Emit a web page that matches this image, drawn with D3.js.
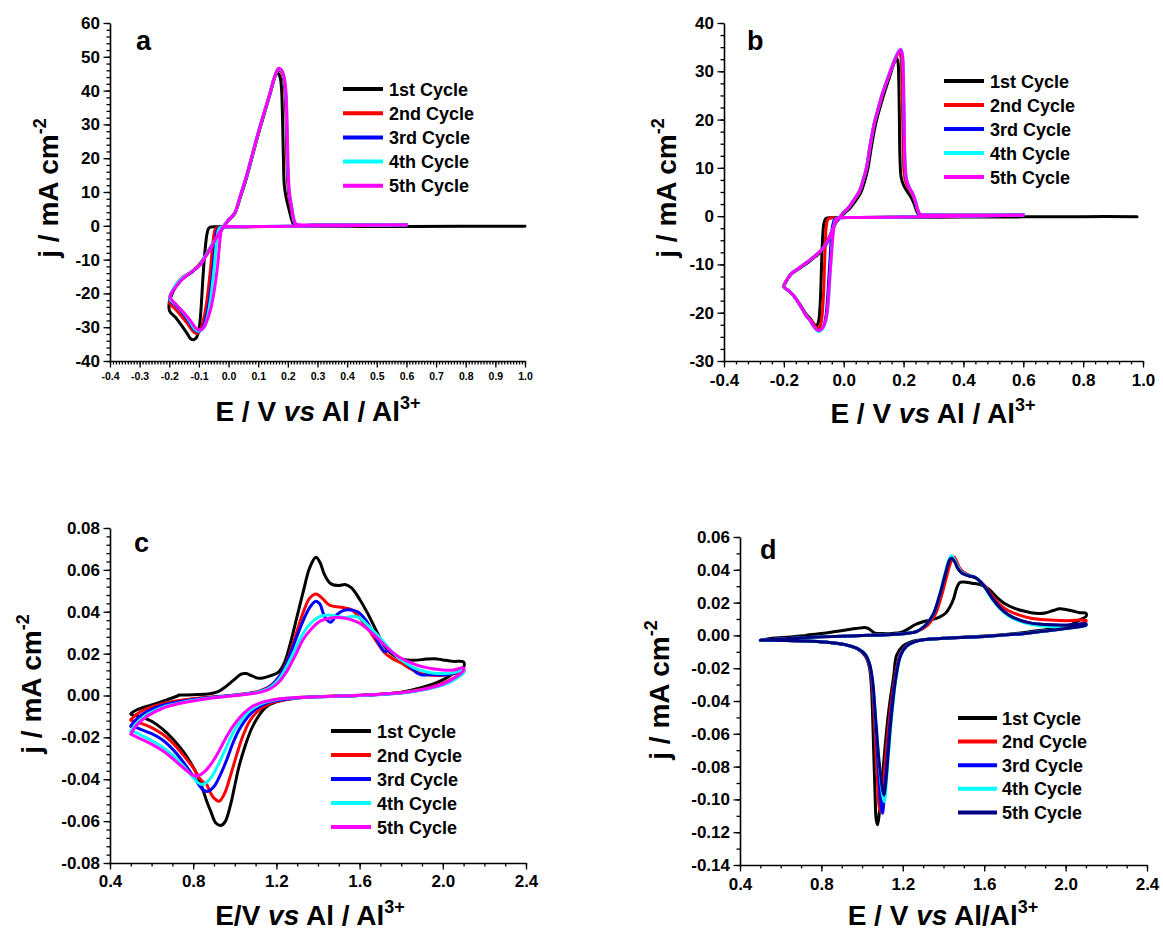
<!DOCTYPE html>
<html><head><meta charset="utf-8">
<script src="https://cdn.jsdelivr.net/npm/d3@7"></script>
<style>
html,body{margin:0;padding:0;background:#fff;}
svg{display:block;font-family:"Liberation Sans",Arial,Helvetica,sans-serif;font-weight:bold;}
text{white-space:pre;}
</style></head><body>
<svg id="chart" width="1163" height="930"></svg>
<script>
// ---------- DATA: [E (V), j (mA cm^-2)] in sweep order ----------
const cycleLabels = ["1st Cycle","2nd Cycle","3rd Cycle","4th Cycle","5th Cycle"];
const colorsABC = ["#000000","#ff0000","#0000ff","#00ffff","#ff00ff"];
const colorsD   = ["#000000","#ff0000","#0000ff","#00ffff","#000080"];

const aTicksX = [-0.4,-0.3,-0.2,-0.1,0.0,0.1,0.2,0.3,0.4,0.5,0.6,0.7,0.8,0.9,1.0];
const aTicksY = [-40,-30,-20,-10,0,10,20,30,40,50,60];
const bTicksX = [-0.4,-0.2,0.0,0.2,0.4,0.6,0.8,1.0];
const bTicksY = [-30,-20,-10,0,10,20,30,40];
const cTicksX = [0.4,0.8,1.2,1.6,2.0,2.4];
const cTicksY = [-0.08,-0.06,-0.04,-0.02,0.00,0.02,0.04,0.06,0.08];
const dTicksX = [0.4,0.8,1.2,1.6,2.0,2.4];
const dTicksY = [-0.14,-0.12,-0.10,-0.08,-0.06,-0.04,-0.02,0.00,0.02,0.04,0.06];

const aCycle1 = [[1.0,-0.1],[0.8,-0.15],[0.6,-0.2],[0.4,-0.2],[0.2,-0.2],[0.0,-0.25],[-0.04,-0.3],[-0.062,-0.4],[-0.068,-0.9],[-0.073,-2.5],[-0.078,-6],[-0.083,-11],[-0.087,-16],[-0.091,-22],[-0.095,-27],[-0.1,-30.8],[-0.108,-33],[-0.118,-33.7],[-0.127,-33.5],[-0.14,-31.8],[-0.16,-29.3],[-0.18,-27],[-0.199,-25.2],[-0.2,-22.6],[-0.19,-20],[-0.18,-18.3],[-0.165,-16.6],[-0.15,-15.3],[-0.13,-14.1],[-0.11,-12.7],[-0.09,-10.6],[-0.07,-8],[-0.05,-5],[-0.03,-2.2],[-0.015,0],[0.0,1.6],[0.02,3.6],[0.04,8.5],[0.06,14],[0.08,20.5],[0.1,27],[0.12,33],[0.14,39],[0.152,42.8],[0.16,44.8],[0.168,45],[0.175,43.5],[0.179,40],[0.182,32],[0.185,20],[0.188,12],[0.195,8],[0.205,4.5],[0.214,1.5],[0.222,0.3],[0.3,0.15],[0.6,0.2]];
const aCycle2 = [[0.6,0.2],[0.4,0.0],[0.2,-0.2],[0.0,-0.3],[-0.035,-0.4],[-0.045,-1],[-0.05,-3],[-0.055,-7],[-0.06,-12],[-0.066,-17],[-0.073,-22],[-0.082,-26.8],[-0.092,-30],[-0.102,-31.6],[-0.11,-31.8],[-0.122,-31],[-0.14,-28.8],[-0.16,-26.6],[-0.18,-24.6],[-0.198,-23],[-0.199,-21.6],[-0.19,-19.6],[-0.175,-17.2],[-0.16,-15.6],[-0.14,-14.4],[-0.12,-13.2],[-0.1,-11.6],[-0.08,-9],[-0.06,-6.2],[-0.04,-3.3],[-0.02,-0.5],[0.0,1.7],[0.02,3.6],[0.04,8.8],[0.06,14.4],[0.08,21],[0.1,27.4],[0.12,33.4],[0.14,39.2],[0.155,43.8],[0.168,46],[0.178,45.5],[0.186,43],[0.191,38],[0.195,26],[0.198,15],[0.203,9],[0.211,5],[0.219,1.5],[0.228,0.3],[0.3,0.25],[0.6,0.3]];
const aCycle3 = [[0.6,0.25],[0.4,0.05],[0.2,-0.15],[0.0,-0.28],[-0.028,-0.4],[-0.037,-1],[-0.042,-3],[-0.047,-7],[-0.052,-12],[-0.058,-17],[-0.065,-22],[-0.074,-26.5],[-0.085,-29.7],[-0.096,-31.1],[-0.105,-31.3],[-0.117,-30.6],[-0.135,-28.2],[-0.155,-25.8],[-0.175,-23.8],[-0.197,-22.1],[-0.198,-21.1],[-0.185,-18.6],[-0.17,-16.7],[-0.15,-15.2],[-0.13,-14],[-0.11,-12.7],[-0.095,-11.4],[-0.08,-9.2],[-0.06,-6.4],[-0.04,-3.4],[-0.02,-0.6],[0.0,1.8],[0.02,3.6],[0.04,8.9],[0.06,14.5],[0.08,21],[0.1,27.5],[0.12,33.5],[0.14,39.3],[0.155,44],[0.168,46.3],[0.178,46],[0.187,43.5],[0.193,38],[0.197,26],[0.2,15],[0.205,9],[0.213,5],[0.221,1.2],[0.23,0.3],[0.3,0.25],[0.6,0.3]];
const aCycle4 = [[0.6,0.25],[0.4,0.05],[0.2,-0.15],[0.0,-0.28],[-0.024,-0.4],[-0.033,-1],[-0.038,-3],[-0.043,-7],[-0.048,-12],[-0.054,-17],[-0.061,-22],[-0.07,-26.5],[-0.081,-29.7],[-0.093,-31],[-0.102,-31.2],[-0.114,-30.5],[-0.132,-28.1],[-0.152,-25.7],[-0.173,-23.6],[-0.197,-21.8],[-0.198,-20.9],[-0.185,-18.5],[-0.17,-16.6],[-0.15,-15.1],[-0.13,-13.9],[-0.11,-12.6],[-0.095,-11.4],[-0.08,-9.2],[-0.06,-6.4],[-0.04,-3.4],[-0.02,-0.6],[0.0,1.8],[0.02,3.6],[0.04,9],[0.06,14.5],[0.08,21],[0.1,27.5],[0.12,33.5],[0.14,39.3],[0.155,44],[0.168,46.4],[0.178,46],[0.188,43.5],[0.194,38],[0.198,26],[0.201,15],[0.206,9],[0.214,5],[0.222,1.2],[0.232,0.3],[0.3,0.25],[0.6,0.3]];
const aCycle5 = [[0.6,0.25],[0.4,0.05],[0.2,-0.15],[0.05,-0.25],[-0.01,-0.3],[-0.02,-0.5],[-0.026,-2],[-0.031,-6],[-0.036,-11],[-0.043,-16],[-0.051,-20.6],[-0.06,-24.5],[-0.07,-27.4],[-0.08,-29.6],[-0.09,-30.7],[-0.099,-30.9],[-0.11,-30.3],[-0.13,-27.9],[-0.15,-25.8],[-0.165,-24.4],[-0.18,-23],[-0.196,-21.5],[-0.197,-20.7],[-0.18,-18.3],[-0.164,-16.5],[-0.145,-15],[-0.13,-14],[-0.11,-12.6],[-0.096,-11.6],[-0.085,-10.2],[-0.074,-8.6],[-0.062,-6.9],[-0.051,-5.2],[-0.04,-3.4],[-0.029,-1.7],[-0.012,0.2],[0.0,1.8],[0.02,3.6],[0.04,9],[0.06,14.6],[0.08,21],[0.1,27.5],[0.12,33.5],[0.14,39.3],[0.155,44],[0.168,46.6],[0.178,46.2],[0.188,43.8],[0.194,39],[0.198,28],[0.201,17],[0.205,10],[0.212,6],[0.219,2.5],[0.226,0.6],[0.24,0.3],[0.3,0.25],[0.6,0.3]];

const bCycle1 = [[0.98,-0.1],[0.8,-0.1],[0.6,-0.15],[0.4,-0.2],[0.2,-0.25],[0.0,-0.3],[-0.05,-0.35],[-0.06,-0.5],[-0.066,-1.5],[-0.07,-4],[-0.073,-8],[-0.075,-12],[-0.077,-16],[-0.08,-19.5],[-0.084,-21.8],[-0.092,-22.8],[-0.1,-22.3],[-0.112,-21.2],[-0.124,-20.4],[-0.135,-19.4],[-0.146,-18.3],[-0.158,-17.2],[-0.17,-16.3],[-0.185,-15.4],[-0.2,-14.7],[-0.19,-13.3],[-0.175,-12],[-0.157,-11.2],[-0.135,-10.3],[-0.113,-9.3],[-0.095,-8.4],[-0.08,-7.6],[-0.065,-6.5],[-0.052,-5.1],[-0.04,-3.4],[-0.029,-1.7],[-0.015,-0.5],[-0.005,0.2],[0.005,0.8],[0.02,1.6],[0.035,2.8],[0.055,4.6],[0.068,6.8],[0.08,9.6],[0.089,13],[0.096,15.6],[0.107,19.2],[0.118,21.8],[0.134,25.2],[0.152,28.6],[0.166,31.3],[0.176,32.7],[0.181,32],[0.184,28],[0.186,20],[0.188,12],[0.192,8],[0.2,6.4],[0.21,5.3],[0.222,4.2],[0.235,2.6],[0.244,1],[0.252,0.3],[0.3,0.2],[0.6,0.25]];
const bCycle2 = [[0.6,0.2],[0.4,0.0],[0.2,-0.2],[0.05,-0.3],[-0.04,-0.35],[-0.052,-0.6],[-0.058,-2],[-0.061,-5],[-0.064,-10],[-0.066,-14],[-0.069,-18],[-0.073,-21],[-0.079,-22.8],[-0.087,-23.3],[-0.096,-22.8],[-0.108,-21.7],[-0.122,-20.7],[-0.134,-19.6],[-0.146,-18.4],[-0.158,-17.3],[-0.17,-16.3],[-0.185,-15.4],[-0.2,-14.6],[-0.19,-13.2],[-0.175,-11.9],[-0.157,-11.1],[-0.135,-10.1],[-0.113,-9.1],[-0.095,-8.2],[-0.08,-7.4],[-0.065,-6.3],[-0.052,-4.9],[-0.04,-3.2],[-0.029,-1.5],[-0.015,-0.4],[-0.007,0.25],[0.0,0.8],[0.014,1.6],[0.03,2.9],[0.052,4.9],[0.065,7.3],[0.077,10.1],[0.086,13.4],[0.093,16],[0.104,19.5],[0.115,22],[0.131,25.4],[0.15,28.9],[0.168,32],[0.181,33.7],[0.187,34],[0.191,33],[0.194,29],[0.197,20],[0.2,11],[0.205,7.6],[0.215,5.9],[0.228,4.6],[0.239,3],[0.247,1.2],[0.254,0.4],[0.3,0.25],[0.6,0.25]];
const bCycle3 = [[0.6,0.2],[0.4,0.0],[0.2,-0.2],[0.05,-0.3],[-0.02,-0.35],[-0.03,-0.6],[-0.037,-2],[-0.042,-5],[-0.046,-9],[-0.05,-13],[-0.054,-17],[-0.059,-20.5],[-0.066,-22.6],[-0.075,-23.5],[-0.085,-23.8],[-0.093,-23.4],[-0.103,-22.6],[-0.114,-21.5],[-0.125,-20.6],[-0.136,-19.5],[-0.147,-18.4],[-0.158,-17.3],[-0.17,-16.3],[-0.185,-15.4],[-0.2,-14.6],[-0.19,-13.2],[-0.175,-11.9],[-0.157,-11.1],[-0.135,-10.1],[-0.113,-9.1],[-0.095,-8.2],[-0.08,-7.4],[-0.065,-6.3],[-0.052,-4.9],[-0.04,-3.2],[-0.029,-1.5],[-0.015,-0.4],[-0.007,0.25],[0.0,0.8],[0.014,1.6],[0.03,3],[0.052,5.1],[0.065,7.5],[0.077,10.3],[0.085,13.5],[0.092,16],[0.103,19.5],[0.114,22],[0.13,25.5],[0.15,29],[0.17,32.3],[0.183,34],[0.19,34.4],[0.195,33.4],[0.198,30],[0.201,20],[0.204,11],[0.209,7.6],[0.219,5.8],[0.23,4.7],[0.24,3],[0.248,1.2],[0.255,0.4],[0.3,0.25],[0.6,0.25]];
const bCycle4 = [[0.6,0.2],[0.4,0.0],[0.2,-0.2],[0.05,-0.3],[-0.015,-0.35],[-0.026,-0.6],[-0.033,-2],[-0.038,-5],[-0.042,-9],[-0.046,-13],[-0.05,-17],[-0.056,-20.5],[-0.064,-22.6],[-0.073,-23.5],[-0.084,-23.9],[-0.092,-23.5],[-0.102,-22.7],[-0.113,-21.6],[-0.124,-20.7],[-0.135,-19.6],[-0.146,-18.4],[-0.158,-17.3],[-0.17,-16.3],[-0.185,-15.4],[-0.2,-14.6],[-0.19,-13.2],[-0.175,-11.9],[-0.157,-11.1],[-0.135,-10.1],[-0.113,-9.1],[-0.095,-8.2],[-0.08,-7.4],[-0.065,-6.3],[-0.052,-4.9],[-0.04,-3.2],[-0.029,-1.5],[-0.015,-0.4],[-0.007,0.25],[0.0,0.8],[0.014,1.6],[0.03,3],[0.052,5.1],[0.065,7.5],[0.077,10.3],[0.085,13.5],[0.092,16],[0.103,19.5],[0.114,22],[0.13,25.5],[0.15,29],[0.17,32.3],[0.183,34.1],[0.19,34.6],[0.196,33.5],[0.199,30],[0.202,20],[0.205,11],[0.21,7.6],[0.22,5.8],[0.23,4.7],[0.24,3],[0.248,1.2],[0.255,0.4],[0.3,0.25],[0.6,0.25]];
const bCycle5 = [[0.6,0.2],[0.4,0.0],[0.2,-0.2],[0.05,-0.3],[-0.01,-0.35],[-0.025,-0.6],[-0.032,-2],[-0.036,-4],[-0.041,-8],[-0.046,-12],[-0.05,-16],[-0.055,-19.8],[-0.062,-22],[-0.071,-23.2],[-0.082,-23.7],[-0.09,-23.5],[-0.1,-22.8],[-0.112,-21.6],[-0.124,-20.8],[-0.135,-19.6],[-0.146,-18.4],[-0.158,-17.3],[-0.17,-16.3],[-0.185,-15.4],[-0.2,-14.6],[-0.19,-13.2],[-0.175,-11.9],[-0.157,-11.1],[-0.135,-10.1],[-0.113,-9.1],[-0.095,-8.2],[-0.08,-7.4],[-0.065,-6.3],[-0.052,-4.9],[-0.04,-3.2],[-0.029,-1.5],[-0.015,-0.4],[-0.007,0.25],[0.0,0.8],[0.014,1.6],[0.03,3],[0.052,5.1],[0.065,7.5],[0.077,10.3],[0.085,13.5],[0.092,16],[0.103,19.5],[0.114,22],[0.13,25.5],[0.15,29],[0.17,32.2],[0.183,34],[0.19,34.5],[0.196,33.5],[0.199,30],[0.202,20],[0.205,11],[0.21,7.5],[0.22,5.8],[0.23,4.7],[0.24,3],[0.248,1.2],[0.255,0.4],[0.3,0.25],[0.6,0.25]];

const cCycle1 = [[0.73,0.0002],[0.8,0.0004],[0.88,0.0008],[0.92,0.0018],[0.96,0.0045],[1.0,0.0078],[1.03,0.0102],[1.055,0.0105],[1.08,0.0095],[1.11,0.0083],[1.14,0.0085],[1.18,0.0097],[1.21,0.0112],[1.24,0.016],[1.27,0.026],[1.3,0.038],[1.33,0.05],[1.36,0.061],[1.39,0.066],[1.41,0.0635],[1.43,0.058],[1.46,0.0535],[1.5,0.0525],[1.53,0.053],[1.56,0.0515],[1.6,0.046],[1.64,0.039],[1.68,0.031],[1.72,0.0235],[1.76,0.0195],[1.8,0.0175],[1.86,0.0168],[1.92,0.0174],[1.96,0.0176],[2.0,0.017],[2.05,0.0163],[2.1,0.016],[2.1,0.0135],[2.05,0.0105],[2.0,0.0075],[1.9,0.0038],[1.8,0.0016],[1.6,0.0],[1.4,-0.0006],[1.3,-0.0012],[1.2,-0.003],[1.15,-0.0055],[1.11,-0.0105],[1.08,-0.016],[1.05,-0.024],[1.02,-0.034],[1.0,-0.043],[0.98,-0.052],[0.955,-0.06],[0.935,-0.062],[0.91,-0.061],[0.885,-0.0555],[0.865,-0.0505],[0.845,-0.0445],[0.82,-0.038],[0.79,-0.0325],[0.75,-0.0265],[0.7,-0.0205],[0.65,-0.0158],[0.6,-0.0123],[0.55,-0.0102],[0.5,-0.0088],[0.53,-0.0068],[0.6,-0.0045],[0.67,-0.0022],[0.73,0.0]];
const cCycle2 = [[0.5,-0.0115],[0.53,-0.0088],[0.58,-0.0062],[0.65,-0.004],[0.75,-0.0022],[0.85,-0.001],[0.95,-0.0002],[1.05,0.0008],[1.12,0.0022],[1.17,0.0045],[1.21,0.0085],[1.25,0.016],[1.29,0.028],[1.33,0.04],[1.36,0.0465],[1.39,0.0485],[1.42,0.0465],[1.45,0.0435],[1.48,0.0425],[1.52,0.042],[1.56,0.041],[1.6,0.037],[1.64,0.032],[1.68,0.026],[1.72,0.0205],[1.76,0.0175],[1.8,0.0155],[1.84,0.013],[1.88,0.011],[1.93,0.0098],[2.0,0.0097],[2.06,0.0105],[2.1,0.0117],[2.1,0.011],[2.05,0.0082],[2.0,0.0058],[1.9,0.003],[1.8,0.0014],[1.6,0.0001],[1.4,-0.0005],[1.3,-0.001],[1.22,-0.0025],[1.16,-0.0042],[1.11,-0.0075],[1.07,-0.0125],[1.04,-0.019],[1.01,-0.028],[0.98,-0.038],[0.95,-0.047],[0.925,-0.0505],[0.9,-0.049],[0.88,-0.046],[0.865,-0.0425],[0.85,-0.0415],[0.83,-0.0395],[0.8,-0.0345],[0.75,-0.0282],[0.7,-0.0225],[0.65,-0.0183],[0.6,-0.0153],[0.55,-0.0133],[0.5,-0.0118]];
const cCycle3 = [[0.5,-0.0145],[0.53,-0.011],[0.58,-0.0075],[0.65,-0.0048],[0.75,-0.0027],[0.85,-0.0013],[0.95,-0.0003],[1.05,0.0007],[1.12,0.002],[1.17,0.0043],[1.21,0.0085],[1.25,0.0155],[1.29,0.026],[1.33,0.036],[1.36,0.042],[1.39,0.045],[1.41,0.0435],[1.43,0.038],[1.46,0.035],[1.49,0.0385],[1.52,0.0405],[1.55,0.041],[1.59,0.04],[1.63,0.036],[1.67,0.029],[1.7,0.0235],[1.72,0.021],[1.74,0.0215],[1.77,0.0195],[1.81,0.0165],[1.85,0.013],[1.88,0.0105],[1.9,0.0098],[1.95,0.01],[2.0,0.0098],[2.05,0.0105],[2.1,0.0122],[2.1,0.0115],[2.05,0.0075],[2.0,0.0052],[1.9,0.0027],[1.8,0.0012],[1.6,0.0],[1.4,-0.0006],[1.3,-0.0011],[1.22,-0.0022],[1.15,-0.0037],[1.1,-0.0065],[1.06,-0.0105],[1.02,-0.0165],[0.99,-0.023],[0.96,-0.031],[0.93,-0.038],[0.9,-0.0435],[0.87,-0.0458],[0.85,-0.0452],[0.83,-0.043],[0.8,-0.0385],[0.75,-0.0315],[0.7,-0.0255],[0.65,-0.021],[0.6,-0.0182],[0.55,-0.0163],[0.52,-0.015],[0.5,-0.0148]];
const cCycle4 = [[0.5,-0.017],[0.53,-0.013],[0.58,-0.009],[0.65,-0.0057],[0.75,-0.0032],[0.85,-0.0016],[0.95,-0.0005],[1.05,0.0006],[1.12,0.0018],[1.17,0.0038],[1.21,0.0075],[1.25,0.014],[1.29,0.022],[1.33,0.03],[1.37,0.035],[1.41,0.0378],[1.45,0.0385],[1.49,0.0378],[1.53,0.0372],[1.57,0.0378],[1.6,0.037],[1.64,0.0335],[1.68,0.0295],[1.72,0.025],[1.76,0.0205],[1.8,0.017],[1.85,0.0138],[1.9,0.0118],[1.95,0.0108],[2.0,0.0105],[2.05,0.0108],[2.1,0.012],[2.1,0.011],[2.05,0.0072],[2.0,0.005],[1.9,0.0026],[1.8,0.0012],[1.6,0.0],[1.4,-0.0006],[1.3,-0.0011],[1.2,-0.002],[1.12,-0.0042],[1.07,-0.0075],[1.03,-0.012],[0.99,-0.018],[0.96,-0.0245],[0.93,-0.031],[0.9,-0.037],[0.87,-0.041],[0.845,-0.0425],[0.82,-0.0415],[0.79,-0.038],[0.75,-0.0335],[0.7,-0.0285],[0.65,-0.0245],[0.6,-0.0215],[0.56,-0.0195],[0.52,-0.0175],[0.5,-0.0172]];
const cCycle5 = [[0.5,-0.0185],[0.53,-0.014],[0.58,-0.0098],[0.65,-0.0062],[0.75,-0.0035],[0.85,-0.0018],[0.95,-0.0006],[1.05,0.0005],[1.12,0.0015],[1.17,0.0032],[1.21,0.0062],[1.25,0.0115],[1.29,0.019],[1.33,0.027],[1.37,0.032],[1.41,0.0355],[1.45,0.0368],[1.5,0.0372],[1.55,0.0365],[1.6,0.0345],[1.64,0.0315],[1.68,0.028],[1.72,0.024],[1.76,0.0205],[1.8,0.0178],[1.85,0.0155],[1.9,0.0138],[1.95,0.0128],[2.0,0.0122],[2.05,0.0122],[2.1,0.0132],[2.1,0.012],[2.05,0.008],[2.0,0.0055],[1.9,0.0028],[1.8,0.0013],[1.6,0.0001],[1.4,-0.0006],[1.3,-0.001],[1.2,-0.0018],[1.13,-0.0033],[1.08,-0.0055],[1.04,-0.0088],[1.0,-0.0135],[0.97,-0.018],[0.94,-0.0235],[0.91,-0.029],[0.88,-0.0335],[0.85,-0.0368],[0.815,-0.0385],[0.78,-0.0368],[0.74,-0.0335],[0.7,-0.03],[0.65,-0.0262],[0.6,-0.0232],[0.55,-0.0208],[0.5,-0.0185]];

const dCycle1 = [[0.73,0.0003],[0.8,0.0012],[0.86,0.0022],[0.92,0.0033],[0.97,0.0042],[1.02,0.0047],[1.04,0.0035],[1.06,0.0015],[1.1,0.0011],[1.15,0.0012],[1.19,0.0018],[1.22,0.0035],[1.26,0.0065],[1.3,0.0083],[1.34,0.0095],[1.38,0.0112],[1.41,0.0135],[1.43,0.017],[1.45,0.0225],[1.465,0.029],[1.48,0.0322],[1.5,0.0325],[1.54,0.0318],[1.58,0.031],[1.62,0.0285],[1.66,0.0235],[1.7,0.0195],[1.75,0.0165],[1.8,0.0147],[1.85,0.0135],[1.9,0.0137],[1.94,0.0152],[1.97,0.0162],[2.0,0.0158],[2.04,0.0147],[2.07,0.0138],[2.1,0.0135],[2.1,0.0115],[2.07,0.0095],[2.0,0.0052],[1.9,0.0035],[1.8,0.0018],[1.6,-0.0004],[1.4,-0.0018],[1.3,-0.0026],[1.25,-0.0035],[1.2,-0.0065],[1.17,-0.012],[1.155,-0.025],[1.13,-0.047],[1.11,-0.072],[1.095,-0.095],[1.085,-0.108],[1.076,-0.1155],[1.069,-0.112],[1.064,-0.098],[1.058,-0.075],[1.052,-0.05],[1.045,-0.03],[1.035,-0.019],[1.015,-0.0125],[0.98,-0.0085],[0.92,-0.0058],[0.85,-0.0045],[0.75,-0.0036],[0.6,-0.0031],[0.5,-0.0029],[0.55,-0.0019],[0.65,-0.0009],[0.73,0.0]];
const dCycle2 = [[0.5,-0.0029],[0.6,-0.0022],[0.7,-0.0015],[0.8,-0.0009],[0.9,-0.0005],[1.0,-0.0001],[1.1,0.0003],[1.2,0.001],[1.27,0.0025],[1.32,0.006],[1.36,0.013],[1.39,0.024],[1.42,0.038],[1.44,0.046],[1.452,0.0478],[1.465,0.045],[1.48,0.041],[1.5,0.0385],[1.53,0.0365],[1.56,0.035],[1.6,0.0305],[1.64,0.024],[1.68,0.0185],[1.72,0.015],[1.77,0.0125],[1.83,0.0105],[1.9,0.0095],[2.0,0.009],[2.1,0.0092],[2.1,0.0085],[2.0,0.0045],[1.9,0.0028],[1.8,0.0012],[1.6,-0.0006],[1.4,-0.0018],[1.3,-0.0026],[1.26,-0.0038],[1.215,-0.0065],[1.186,-0.012],[1.162,-0.025],[1.135,-0.05],[1.112,-0.08],[1.1,-0.1],[1.09,-0.1075],[1.082,-0.103],[1.076,-0.09],[1.069,-0.075],[1.06,-0.05],[1.048,-0.028],[1.035,-0.018],[1.015,-0.012],[0.98,-0.0082],[0.92,-0.0058],[0.85,-0.0045],[0.75,-0.0036],[0.6,-0.0031],[0.5,-0.0029]];
const dCycle3 = [[0.5,-0.0029],[0.6,-0.0022],[0.7,-0.0015],[0.8,-0.0009],[0.9,-0.0005],[1.0,-0.0001],[1.1,0.0003],[1.2,0.001],[1.27,0.0025],[1.31,0.006],[1.35,0.013],[1.38,0.024],[1.41,0.038],[1.43,0.046],[1.44,0.0475],[1.455,0.045],[1.47,0.041],[1.49,0.038],[1.52,0.0365],[1.56,0.035],[1.6,0.03],[1.64,0.0225],[1.68,0.0165],[1.72,0.0125],[1.77,0.0095],[1.83,0.0075],[1.9,0.0066],[2.0,0.0062],[2.1,0.007],[2.1,0.0065],[2.0,0.0042],[1.9,0.0027],[1.8,0.0012],[1.6,-0.0006],[1.4,-0.0018],[1.3,-0.0026],[1.26,-0.0038],[1.217,-0.0065],[1.188,-0.012],[1.165,-0.025],[1.14,-0.05],[1.12,-0.08],[1.108,-0.1],[1.1,-0.1085],[1.092,-0.103],[1.086,-0.092],[1.077,-0.075],[1.064,-0.05],[1.05,-0.028],[1.037,-0.018],[1.017,-0.012],[0.98,-0.0082],[0.92,-0.0058],[0.85,-0.0045],[0.75,-0.0036],[0.6,-0.0031],[0.5,-0.0029]];
const dCycle4 = [[0.5,-0.0029],[0.6,-0.0022],[0.7,-0.0015],[0.8,-0.0009],[0.9,-0.0005],[1.0,-0.0001],[1.1,0.0003],[1.2,0.001],[1.27,0.0025],[1.31,0.006],[1.35,0.013],[1.38,0.024],[1.41,0.039],[1.43,0.047],[1.44,0.0485],[1.455,0.046],[1.47,0.042],[1.49,0.0385],[1.52,0.0368],[1.56,0.0352],[1.6,0.0298],[1.64,0.022],[1.68,0.016],[1.72,0.0118],[1.77,0.0088],[1.83,0.0068],[1.9,0.0056],[2.0,0.0055],[2.1,0.0065],[2.1,0.006],[2.0,0.0042],[1.9,0.0027],[1.8,0.0012],[1.6,-0.0006],[1.4,-0.0018],[1.3,-0.0026],[1.26,-0.0038],[1.219,-0.0065],[1.19,-0.012],[1.168,-0.025],[1.145,-0.05],[1.125,-0.08],[1.116,-0.095],[1.11,-0.1015],[1.102,-0.098],[1.095,-0.092],[1.082,-0.075],[1.066,-0.05],[1.052,-0.028],[1.038,-0.018],[1.018,-0.012],[0.98,-0.0082],[0.92,-0.0058],[0.85,-0.0045],[0.75,-0.0036],[0.6,-0.0031],[0.5,-0.0029]];
const dCycle5 = [[0.5,-0.0029],[0.6,-0.0022],[0.7,-0.0015],[0.8,-0.0009],[0.9,-0.0005],[1.0,-0.0001],[1.1,0.0003],[1.2,0.001],[1.27,0.0025],[1.31,0.006],[1.35,0.013],[1.38,0.024],[1.41,0.038],[1.43,0.046],[1.44,0.047],[1.455,0.045],[1.47,0.041],[1.49,0.038],[1.52,0.0365],[1.56,0.035],[1.6,0.03],[1.64,0.0225],[1.68,0.0165],[1.72,0.0125],[1.77,0.0095],[1.83,0.0075],[1.9,0.0066],[2.0,0.0062],[2.1,0.0068],[2.1,0.0062],[2.0,0.0042],[1.9,0.0027],[1.8,0.0012],[1.6,-0.0006],[1.4,-0.0018],[1.3,-0.0026],[1.26,-0.0038],[1.219,-0.0065],[1.19,-0.012],[1.167,-0.025],[1.143,-0.05],[1.123,-0.08],[1.116,-0.09],[1.108,-0.0975],[1.1,-0.094],[1.094,-0.088],[1.082,-0.075],[1.066,-0.05],[1.052,-0.028],[1.038,-0.018],[1.018,-0.012],[0.98,-0.0082],[0.92,-0.0058],[0.85,-0.0045],[0.75,-0.0036],[0.6,-0.0031],[0.5,-0.0029]];

// ---------- LAYOUT ----------
const panels = [
  { letter:"a", x0:110, x1:525, y0:23, y1:361, xDom:[-0.4,1.0], yDom:[-40,60],
    xTicks:aTicksX, yTicks:aTicksY, xMinorStep:0.01, yMinorStep:2,
    xFmt:d=>d.toFixed(1), yFmt:d=>String(d), xFont:10.5, yFont:17, xLabelDy:19,
    series:[aCycle1,aCycle2,aCycle3,aCycle4,aCycle5], colors:colorsABC,
    legend:{lx0:343,lx1:383,tx:389,y:89,dy:24.2},
    letterPos:[136,50],
    xTitle:{x:318,y:421,parts:[["E / V ",""],["vs","italic"],[" Al / Al",""]]},
    yTitle:{x:58,y:188} },
  { letter:"b", x0:724, x1:1143, y0:23, y1:361, xDom:[-0.4,1.0], yDom:[-30,40],
    xTicks:bTicksX, yTicks:bTicksY, xMinorStep:0.04, yMinorStep:2.5,
    xFmt:d=>d.toFixed(1), yFmt:d=>String(d), xFont:17, yFont:17, xLabelDy:25,
    series:[bCycle1,bCycle2,bCycle3,bCycle4,bCycle5], colors:colorsABC,
    legend:{lx0:944,lx1:984,tx:990,y:81,dy:24},
    letterPos:[747,50],
    xTitle:{x:933,y:423,parts:[["E / V ",""],["vs","italic"],[" Al / Al",""]]},
    yTitle:{x:676,y:188} },
  { letter:"c", x0:110, x1:526, y0:528, y1:863, xDom:[0.4,2.4], yDom:[-0.08,0.08],
    xTicks:cTicksX, yTicks:cTicksY, xMinorStep:0.1, yMinorStep:0.004,
    xFmt:d=>d.toFixed(1), yFmt:d=>d.toFixed(2), xFont:17, yFont:17, xLabelDy:24,
    series:[cCycle1,cCycle2,cCycle3,cCycle4,cCycle5], colors:colorsABC,
    legend:{lx0:331,lx1:371,tx:377,y:731,dy:24},
    letterPos:[134,552],
    xTitle:{x:310,y:925,parts:[["E/V ",""],["vs","italic"],[" Al / Al",""]]},
    yTitle:{x:41,y:684} },
  { letter:"d", x0:740, x1:1147, y0:537, y1:865, xDom:[0.4,2.4], yDom:[-0.14,0.06],
    xTicks:dTicksX, yTicks:dTicksY, xMinorStep:0.1, yMinorStep:0.01,
    xFmt:d=>d.toFixed(1), yFmt:d=>d.toFixed(2), xFont:17, yFont:17, xLabelDy:25,
    series:[dCycle1,dCycle2,dCycle3,dCycle4,dCycle5], colors:colorsD,
    legend:{lx0:958,lx1:997,tx:1002,y:718,dy:23.6},
    letterPos:[760,559],
    xTitle:{x:943,y:925,parts:[["E / V ",""],["vs","italic"],[" Al/Al",""]]},
    yTitle:{x:669,y:690} }
];

const svg = d3.select("#chart");

function minorValues(dom, step){
  const n = Math.round((dom[1]-dom[0])/step);
  return d3.range(n+1).map(i => dom[0] + i*step);
}

panels.forEach(p => {
  const g = svg.append("g");
  const x = d3.scaleLinear().domain(p.xDom).range([p.x0, p.x1]);
  const y = d3.scaleLinear().domain(p.yDom).range([p.y1, p.y0]);

  // minor ticks
  const xm = g.append("g").attr("transform",`translate(0,${p.y1})`)
    .call(d3.axisBottom(x).tickValues(minorValues(p.xDom,p.xMinorStep)).tickSize(3.5).tickSizeOuter(0).tickFormat(""));
  xm.select(".domain").remove();
  const ym = g.append("g").attr("transform",`translate(${p.x0},0)`)
    .call(d3.axisLeft(y).tickValues(minorValues(p.yDom,p.yMinorStep)).tickSize(3.5).tickSizeOuter(0).tickFormat(""));
  ym.select(".domain").remove();

  // major axes
  const xa = g.append("g").attr("transform",`translate(0,${p.y1})`)
    .call(d3.axisBottom(x).tickValues(p.xTicks).tickSize(6.5).tickSizeOuter(0).tickFormat(p.xFmt));
  const ya = g.append("g").attr("transform",`translate(${p.x0},0)`)
    .call(d3.axisLeft(y).tickValues(p.yTicks).tickSize(6.5).tickSizeOuter(0).tickFormat(p.yFmt));
  [xa,ya,xm,ym].forEach(a => {
    a.selectAll("line").attr("stroke","#000").attr("stroke-width",1.3);
    a.select(".domain").attr("stroke","#000").attr("stroke-width",1.6);
  });
  xa.selectAll("text").attr("font-size",p.xFont).attr("font-weight","bold").attr("fill","#000")
    .attr("font-family",'"Liberation Sans",Arial,sans-serif').attr("y",p.xLabelDy).attr("dy",0);
  ya.selectAll("text").attr("font-size",p.yFont).attr("font-weight","bold").attr("fill","#000")
    .attr("font-family",'"Liberation Sans",Arial,sans-serif').attr("x",-10);

  // curves
  const line = d3.line().x(d=>x(d[0])).y(d=>y(d[1])).curve(d3.curveCatmullRom.alpha(0.5));
  p.series.forEach((s,i) => {
    g.append("path").datum(s).attr("d",line).attr("fill","none")
      .attr("stroke",p.colors[i]).attr("stroke-width",3).attr("stroke-linejoin","round").attr("stroke-linecap","round");
  });

  // legend
  cycleLabels.forEach((lab,i) => {
    const yy = p.legend.y + i*p.legend.dy;
    g.append("line").attr("x1",p.legend.lx0).attr("x2",p.legend.lx1).attr("y1",yy).attr("y2",yy)
      .attr("stroke",p.colors[i]).attr("stroke-width",4);
    g.append("text").attr("x",p.legend.tx).attr("y",yy+6.5).attr("font-size",18).attr("fill","#000").text(lab);
  });

  // panel letter
  g.append("text").attr("x",p.letterPos[0]).attr("y",p.letterPos[1]).attr("font-size",27).text(p.letter);

  // x title
  const xt = g.append("text").attr("x",p.xTitle.x).attr("y",p.xTitle.y).attr("text-anchor","middle").attr("font-size",28);
  p.xTitle.parts.forEach(([t,st]) => { const ts = xt.append("tspan").text(t); if(st) ts.attr("font-style",st); });
  xt.append("tspan").attr("dy",-12).attr("font-size",18).text("3+");

  // y title
  const yt = g.append("text").attr("transform",`translate(${p.yTitle.x},${p.yTitle.y}) rotate(-90)`)
    .attr("text-anchor","middle").attr("font-size",28);
  yt.append("tspan").text("j / mA cm");
  yt.append("tspan").attr("dy",-12).attr("font-size",18).text("-2");
});
</script></body></html>
